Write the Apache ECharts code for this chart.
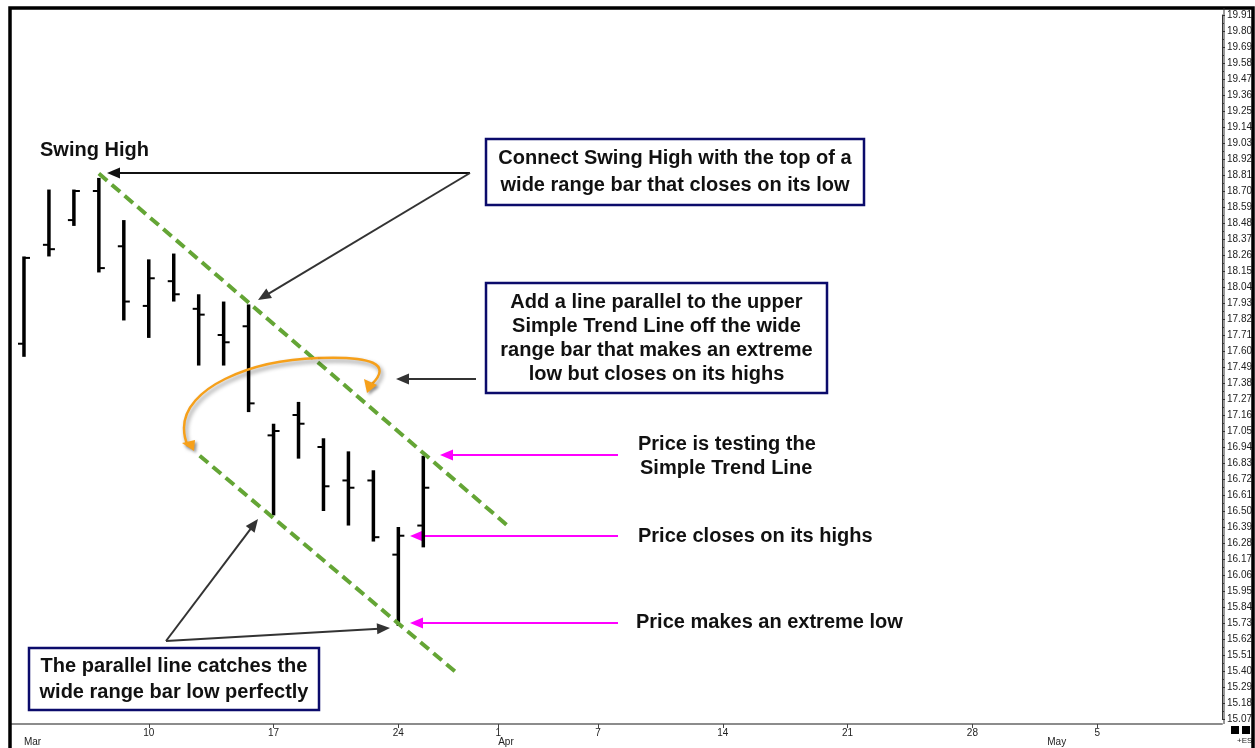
<!DOCTYPE html>
<html>
<head>
<meta charset="UTF-8">
<script src="https://cdn.jsdelivr.net/npm/echarts@6/dist/echarts.min.js"></script>
<style>
  html, body { margin: 0; padding: 0; background: #fff; }
  #main { width: 1255px; height: 748px; }
</style>
</head>
<body>
<div id="main"></div>
<script>
// daily bars, Mar 3 .. Mar 25
var opens  = [17.65, 18.33, 18.50, 18.70, 18.32, 17.91, 18.08, 17.89, 17.71, 17.77, 17.02, 17.16, 16.94, 16.71, 16.71, 16.20, 16.40];
var highs  = [18.25, 18.71, 18.71, 18.79, 18.50, 18.23, 18.27, 17.99, 17.94, 17.92, 17.10, 17.25, 17.00, 16.91, 16.78, 16.39, 16.88];
var lows   = [17.56, 18.25, 18.46, 18.14, 17.81, 17.69, 17.94, 17.50, 17.50, 17.18, 16.47, 16.86, 16.50, 16.40, 16.29, 15.71, 16.25];
var closes = [18.24, 18.30, 18.70, 18.17, 17.94, 18.10, 17.99, 17.85, 17.66, 17.24, 17.05, 17.10, 16.67, 16.66, 16.32, 16.33, 16.66];

// trend lines [barIndex, price]
var upperTrend = [[3.0, 18.82], [19.44, 16.39]];
var lowerTrend = [[7.04, 16.88], [17.32, 15.39]];

// x axis labels (trading-day index)
var dayIdx = [5, 10, 15, 19, 23, 28, 33, 38, 43];
var dayLabels = ['10', '17', '24', '1', '7', '14', '21', '28', '5'];
var monthIdx = [0, 19, 41];
var monthLabels = ['Mar', 'Apr', 'May'];

var narrow = '"Liberation Sans Narrow", "Arial Narrow", "Liberation Sans", sans-serif';
var bold = '"Liberation Sans", Arial, sans-serif';

var bars = [];
for (var i = 0; i < opens.length; i++) {
    bars.push([i, opens[i], highs[i], lows[i], closes[i]]);
}

function renderBar(params, api) {
    var x = api.value(0);
    var o = api.coord([x, api.value(1)]);
    var h = api.coord([x, api.value(2)]);
    var l = api.coord([x, api.value(3)]);
    var c = api.coord([x, api.value(4)]);
    return {
        type: 'group',
        children: [
            {type: 'line', shape: {x1: h[0], y1: h[1], x2: l[0], y2: l[1]}, style: {stroke: '#000', lineWidth: 3.5}},
            {type: 'line', shape: {x1: o[0] - 6, y1: o[1], x2: o[0], y2: o[1]}, style: {stroke: '#000', lineWidth: 2}},
            {type: 'line', shape: {x1: c[0], y1: c[1], x2: c[0] + 6, y2: c[1]}, style: {stroke: '#000', lineWidth: 2}}
        ]
    };
}

function arrow(x1, y1, x2, y2, color, w, hl, hw) {
    var dx = x2 - x1, dy = y2 - y1;
    var len = Math.sqrt(dx * dx + dy * dy);
    var ux = dx / len, uy = dy / len;
    var bx = x2 - ux * hl, by = y2 - uy * hl;
    return {
        type: 'group',
        children: [
            {type: 'line', shape: {x1: x1, y1: y1, x2: bx + ux * 2, y2: by + uy * 2}, style: {stroke: color, lineWidth: w}},
            {type: 'polygon', shape: {points: [[x2, y2], [bx - uy * hw / 2, by + ux * hw / 2], [bx + uy * hw / 2, by - ux * hw / 2]]}, style: {fill: color}}
        ]
    };
}

function box(x, y, w, h, lines, lh) {
    var g = {type: 'group', children: [
        {type: 'rect', shape: {x: x, y: y, width: w, height: h}, style: {fill: '#fff', stroke: '#0b0b6b', lineWidth: 2.5}}
    ]};
    var y0 = y + h / 2 - (lines.length - 1) * lh / 2;
    for (var k = 0; k < lines.length; k++) {
        g.children.push({type: 'text', x: x + w / 2, y: y0 + k * lh, style: {
            text: lines[k], font: 'bold 20px ' + bold, fill: '#111', align: 'center', verticalAlign: 'middle'
        }});
    }
    return g;
}

function label(x, y, t) {
    return {type: 'text', x: x, y: y, style: {text: t, font: 'bold 20px ' + bold, fill: '#111', verticalAlign: 'middle'}};
}

var orangeStyle = {fill: 'none', stroke: '#f6a01a', lineWidth: 2.5, shadowBlur: 4, shadowColor: 'rgba(0,0,0,0.45)', shadowOffsetX: 2, shadowOffsetY: 3};

var chart = echarts.init(document.getElementById('main'));
var option = {
    animation: false,
    backgroundColor: '#fff',
    grid: {left: 10, right: 31, top: 15, bottom: 29},
    xAxis: [{
        type: 'value', min: -0.56, max: 48, offset: 5,
        splitLine: {show: false},
        axisLine: {show: true, onZero: false, lineStyle: {color: '#8c8c8c', width: 2}},
        axisTick: {show: true, customValues: dayIdx, length: 4, lineStyle: {color: '#444', width: 1}},
        axisLabel: {
            customValues: dayIdx, margin: 4, fontSize: 10, fontFamily: narrow, color: '#222',
            formatter: function (v) { return dayLabels[dayIdx.indexOf(v)]; }
        }
    }, {
        type: 'value', min: -0.56, max: 48, offset: 5, position: 'bottom',
        splitLine: {show: false},
        axisLine: {show: false, onZero: false},
        axisTick: {show: false},
        axisLabel: {
            customValues: monthIdx, margin: 13, fontSize: 10, fontFamily: narrow, color: '#222', align: 'left',
            formatter: function (v) { return monthLabels[monthIdx.indexOf(v)]; }
        }
    }],
    yAxis: {
        type: 'value', position: 'right', min: 15.07, max: 19.91, interval: 0.11,
        splitLine: {show: false},
        axisLine: {show: true, onZero: false, lineStyle: {color: '#333', width: 1}},
        axisTick: {show: true, inside: false, length: 3, lineStyle: {color: '#333'}},
        minorTick: {show: true, splitNumber: 2, length: 2, lineStyle: {color: '#333'}},
        axisLabel: {
            inside: false, margin: 5, fontSize: 10, fontFamily: narrow, color: '#222',
            formatter: function (v) { return v.toFixed(2); }
        }
    },
    series: [{
        type: 'custom',
        renderItem: renderBar,
        encode: {x: 0, y: [1, 2, 3, 4]},
        data: bars,
        z: 3
    }, {
        type: 'line', data: upperTrend, symbol: 'none', z: 4,
        lineStyle: {color: '#64a535', width: 4, type: [11, 6]}
    }, {
        type: 'line', data: lowerTrend, symbol: 'none', z: 4,
        lineStyle: {color: '#64a535', width: 4, type: [11, 6]}
    }],
    graphic: [
        // frame
        {type: 'rect', shape: {x: 10, y: 8, width: 1243, height: 760}, style: {fill: 'none', stroke: '#000', lineWidth: 3.5}, z: 10},
        {type: 'line', shape: {x1: 1224, y1: 8, x2: 1224, y2: 724}, style: {stroke: '#333', lineWidth: 1}, z: 10},
        {type: 'rect', shape: {x: 1231, y: 726, width: 8, height: 8}, style: {fill: '#000'}},
        {type: 'rect', shape: {x: 1242, y: 726, width: 8, height: 8}, style: {fill: '#000'}},
        {type: 'text', x: 1237, y: 741, style: {text: '+ES', font: '8px ' + narrow, fill: '#222', verticalAlign: 'middle'}},

        label(40, 150, 'Swing High'),
        label(638, 444, 'Price is testing the'),
        label(640, 468, 'Simple Trend Line'),
        label(638, 536, 'Price closes on its highs'),
        label(636, 622, 'Price makes an extreme low'),

        box(486, 139, 378, 66, ['Connect Swing High with the top of a', 'wide range bar that closes on its low'], 27),
        box(486, 283, 341, 110, ['Add a line parallel to the upper', 'Simple Trend Line off the wide', 'range bar that makes an extreme', 'low but closes on its highs'], 24),
        box(29, 648, 290, 62, ['The parallel line catches the', 'wide range bar low perfectly'], 26),

        arrow(470, 173, 107, 173, '#111', 2, 13, 11),
        arrow(470, 173, 258, 300, '#333', 2, 13, 11),
        arrow(476, 379, 396, 379, '#333', 2, 13, 11),
        arrow(166, 641, 258, 519, '#333', 2, 13, 11),
        arrow(166, 641, 390, 628, '#333', 2, 13, 11),

        arrow(618, 455, 440, 455, '#ff00ff', 2, 13, 11),
        arrow(618, 536, 410, 536, '#ff00ff', 2, 13, 11),
        arrow(618, 623, 410, 623, '#ff00ff', 2, 13, 11),

        // orange curved arrow
        {type: 'bezierCurve', z: 12, shape: {x1: 372, y1: 384, cpx1: 392, cpy1: 364, cpx2: 372, cpy2: 356, x2: 318, y2: 358}, style: orangeStyle},
        {type: 'bezierCurve', z: 12, shape: {x1: 318, y1: 358, cpx1: 250, cpy1: 360, cpx2: 184, cpy2: 388, x2: 184, y2: 428}, style: orangeStyle},
        {type: 'bezierCurve', z: 12, shape: {x1: 184, y1: 428, cpx1: 184, cpy1: 436, cpx2: 186, cpy2: 442, x2: 188, y2: 446}, style: orangeStyle},
        {type: 'polygon', z: 12, shape: {points: [[367, 393], [364, 379], [377, 385]]},
            style: {fill: '#f6a01a', shadowBlur: 3, shadowColor: 'rgba(0,0,0,0.4)', shadowOffsetX: 2, shadowOffsetY: 2}},
        {type: 'polygon', z: 12, shape: {points: [[194, 451], [182, 443], [195, 440]]},
            style: {fill: '#f6a01a', shadowBlur: 3, shadowColor: 'rgba(0,0,0,0.4)', shadowOffsetX: 2, shadowOffsetY: 2}}
    ]
};
chart.setOption(option);
</script>
</body>
</html>
